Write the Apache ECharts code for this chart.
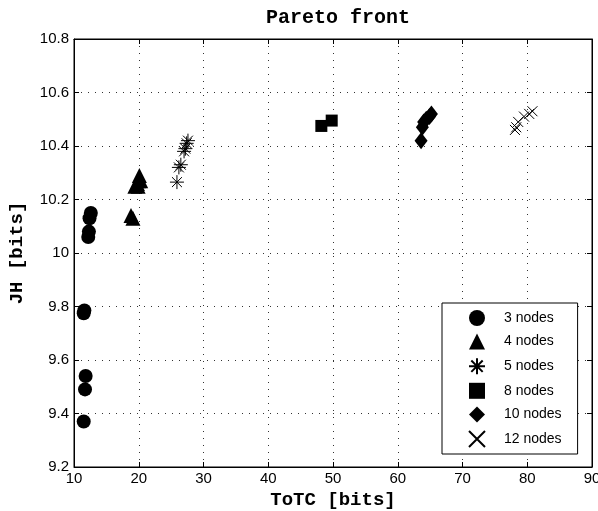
<!DOCTYPE html>
<html>
<head>
<meta charset="utf-8">
<script src="https://cdn.jsdelivr.net/npm/echarts@6/dist/echarts.min.js"></script>
<style>
  html, body { margin: 0; padding: 0; background: #fff; }
  #chart { width: 598px; height: 511px; }
</style>
</head>
<body>
<div id="chart"></div>
<script>
  // data: [ToTC, JH]
  let nodes3 = [[12.6,10.15],[12.4,10.13],[12.3,10.08],[12.2,10.06],[11.6,9.785],[11.5,9.775],[11.8,9.54],[11.7,9.49],[11.5,9.37]]
  let nodes4 = [[18.8,10.14],[19.1,10.13],[19.4,10.25],[19.8,10.26],[20.0,10.27],[20.1,10.29],[19.9,10.25],[20.3,10.27]]
  let nodes5 = [[25.9,10.265],[26.2,10.32],[26.5,10.33],[27.0,10.38],[27.2,10.39],[27.4,10.41],[27.6,10.42]]
  let nodes8 = [[48.2,10.475],[49.8,10.495]]
  let nodes10 = [[63.6,10.42],[63.8,10.47],[64.0,10.49],[64.4,10.50],[64.9,10.51],[65.2,10.52]]
  let nodes12 = [[78.1,10.46],[78.3,10.47],[78.6,10.49],[79.5,10.51],[80.3,10.52],[80.8,10.53]]
  let seriesNames = ['3 nodes','4 nodes','5 nodes','8 nodes','10 nodes','12 nodes']

  let star = 'path://M0,-10L0,10M-10,0L10,0M-7.1,-7.1L7.1,7.1M-7.1,7.1L7.1,-7.1'
  let cross = 'path://M-10,-10L10,10M-10,10L10,-10'

  let filled = function (name, data, symbol, size) {
    return {
      name: name, type: 'scatter', data: data,
      symbol: symbol, symbolSize: size,
      itemStyle: { color: '#000', opacity: 1 }
    }
  }
  let stroked = function (name, data, symbol, size) {
    return {
      name: name, type: 'scatter', data: data,
      symbol: symbol, symbolSize: size,
      itemStyle: { color: 'rgba(0,0,0,0)', borderColor: '#000', borderWidth: 1, opacity: 1 }
    }
  }

  let mono = '"Liberation Mono", "DejaVu Sans Mono", monospace'
  let sans = '"Liberation Sans", Arial, sans-serif'
  let dots = { color: '#333', type: [1, 6], width: 1 }
  let tick = { show: true, inside: true, length: 5, lineStyle: { color: '#000' } }

  let option = {
    animation: false,
    backgroundColor: '#fff',
    title: {
      text: 'Pareto front',
      left: 333, top: 3, textAlign: 'center',
      textStyle: { fontFamily: mono, fontWeight: 'bold', fontSize: 20, color: '#000' }
    },
    grid: {
      left: 74, right: 6, top: 39, bottom: 44,
      outerBoundsMode: 'none', containLabel: false,
      show: true, borderColor: '#000', borderWidth: 1
    },
    legend: {
      orient: 'vertical', left: 442, top: 303,
      data: seriesNames,
      backgroundColor: '#fff', borderColor: '#000', borderWidth: 1,
      padding: [7, 16, 6, 26],
      itemWidth: 16, itemHeight: 16, itemGap: 7.6,
      textStyle: { fontFamily: sans, fontSize: 14, color: '#000', padding: [0, 0, 0, 14] }
    },
    xAxis: [{
      type: 'value', min: 10, max: 90, interval: 10,
      name: 'ToTC [bits]', nameLocation: 'middle', nameGap: 22,
      nameTextStyle: { fontFamily: mono, fontWeight: 'bold', fontSize: 19, color: '#000' },
      axisLine: { show: true, lineStyle: { color: '#000' } },
      axisTick: tick,
      axisLabel: { fontFamily: sans, fontSize: 15, color: '#000', margin: 4 },
      splitLine: { show: true, lineStyle: dots }
    }, {
      type: 'value', min: 10, max: 90, interval: 10, position: 'top',
      axisLine: { show: true, lineStyle: { color: '#000' } },
      axisTick: tick, axisLabel: { show: false }, splitLine: { show: false }
    }],
    yAxis: [{
      type: 'value', min: 9.2, max: 10.8, interval: 0.2,
      name: 'JH [bits]', nameLocation: 'middle', nameGap: 47, nameRotate: 90,
      nameTextStyle: { fontFamily: mono, fontWeight: 'bold', fontSize: 19, color: '#000' },
      axisLine: { show: true, lineStyle: { color: '#000' } },
      axisTick: tick,
      axisLabel: {
        fontFamily: sans, fontSize: 15, color: '#000', margin: 5,
        formatter: function (v) { return String(+v.toFixed(1)) }
      },
      splitLine: { show: true, lineStyle: dots }
    }, {
      type: 'value', min: 9.2, max: 10.8, interval: 0.2, position: 'right',
      axisLine: { show: true, lineStyle: { color: '#000' } },
      axisTick: tick, axisLabel: { show: false }, splitLine: { show: false }
    }],
    series: [
      filled(seriesNames[0], nodes3, 'circle', 14),
      filled(seriesNames[1], nodes4, 'triangle', 15),
      stroked(seriesNames[2], nodes5, star, 14),
      filled(seriesNames[3], nodes8, 'rect', 12),
      filled(seriesNames[4], nodes10, 'diamond', [13, 17]),
      stroked(seriesNames[5], nodes12, cross, 10)
    ]
  }
  let myChart = echarts.init(document.getElementById('chart'))
  myChart.setOption(option)
</script>
</body>
</html>
